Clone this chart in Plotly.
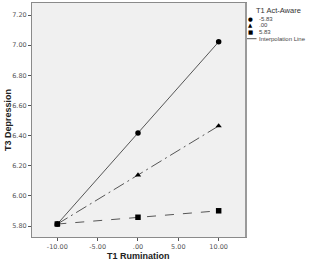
import plotly.graph_objects as go

x_vals = [-10, 0, 10]
series_names = ["-5.83", ".00", "5.83"]
y_low = [5.813, 6.417, 7.022]
y_mid = [5.813, 6.138, 6.464]
y_high = [5.813, 5.858, 5.901]
x_ticks = [-10, -5, 0, 5, 10]
x_tick_labels = ["-10.00", "-5.00", ".00", "5.00", "10.00"]
y_ticks = [5.8, 6.0, 6.2, 6.4, 6.6, 6.8, 7.0, 7.2]
y_tick_labels = ["5.80", "6.00", "6.20", "6.40", "6.60", "6.80", "7.00", "7.20"]

W, H = 309, 267
L, R, T, B = 32, 63, 3, 30

fig = go.Figure()
styles = [("solid", "circle"), ("12px,4px,2px,4px", "triangle-up"), ("dash", "square")]
for name, ys, (dash, sym) in zip(series_names, [y_low, y_mid, y_high], styles):
    fig.add_trace(go.Scatter(
        x=x_vals, y=ys, name=name, mode="lines",
        line=dict(color="#444444", width=0.9, dash=dash),
        showlegend=False, hoverinfo="skip"))
for name, ys, (dash, sym) in zip(series_names, [y_low, y_mid, y_high], styles):
    fig.add_trace(go.Scatter(
        x=x_vals, y=ys, name=name, mode="markers",
        marker=dict(symbol=sym, size=5.5, color="black"),
        showlegend=False))

tickfont = dict(family="DejaVu Sans", size=6.5, color="#555555")
fig.update_xaxes(range=[-13.14, 13.39], tickvals=x_ticks, ticktext=x_tick_labels,
                 ticks="outside", ticklen=3, tickcolor="#555555", tickfont=tickfont,
                 showgrid=False, zeroline=False, showline=True, mirror=True,
                 linecolor="#8a8a8a", linewidth=1)
fig.update_yaxes(range=[5.727, 7.28], tickvals=y_ticks, ticktext=y_tick_labels,
                 ticks="outside", ticklen=3, tickcolor="#555555", tickfont=tickfont,
                 showgrid=False, zeroline=False, showline=True, mirror=True,
                 linecolor="#8a8a8a", linewidth=1)

def px(xp):
    return (xp - L) / (W - L - R)

def py(yp):
    return 1 - (yp - T) / (H - T - B)

annotations = [
    dict(text="<b>T3 Depression</b>", x=px(8), y=py(120), textangle=-90,
         font=dict(family="Liberation Sans", size=9, color="#222222")),
    dict(text="<b>T1 Rumination</b>", x=px(138), y=py(256),
         font=dict(family="Liberation Sans", size=9, color="#222222")),
    dict(text="T1 Act-Aware", x=px(254), y=py(10.5), xanchor="left",
         font=dict(family="Liberation Sans", size=7.5, color="#333333")),
]
legend_items = [("●", "-5.83", 19.3), ("▲", ".00", 25.3), ("■", "5.83", 31.7)]
for sym, lab, yp in legend_items:
    annotations.append(dict(text=sym, x=px(250), y=py(yp),
                            font=dict(family="DejaVu Sans", size=5.5, color="black")))
    annotations.append(dict(text=lab, x=px(256.5), y=py(yp), xanchor="left",
                            font=dict(family="Liberation Sans", size=6, color="#444444")))
annotations.append(dict(text="Interpolation Line", x=px(256.5), y=py(38.7), xanchor="left",
                        font=dict(family="Liberation Sans", size=6, color="#444444")))
for a in annotations:
    a.update(xref="paper", yref="paper", showarrow=False)
    a.setdefault("xanchor", "center")
    a["yanchor"] = "middle"

shapes = [
    dict(type="line", xref="paper", yref="paper", x0=px(246), x1=px(256.5), y0=py(38.7), y1=py(38.7),
         line=dict(color="#555555", width=1)),
    dict(type="line", xref="paper", yref="paper", x0=1, x1=1, y0=0, y1=1,
         line=dict(color="#9a9a9a", width=2)),
]

fig.update_layout(
    width=W, height=H, margin=dict(l=L, r=R, t=T, b=B, autoexpand=False),
    paper_bgcolor="white", plot_bgcolor="#f0f0f0",
    annotations=annotations, shapes=shapes, showlegend=False,
)
fig.write_html("out.html")
